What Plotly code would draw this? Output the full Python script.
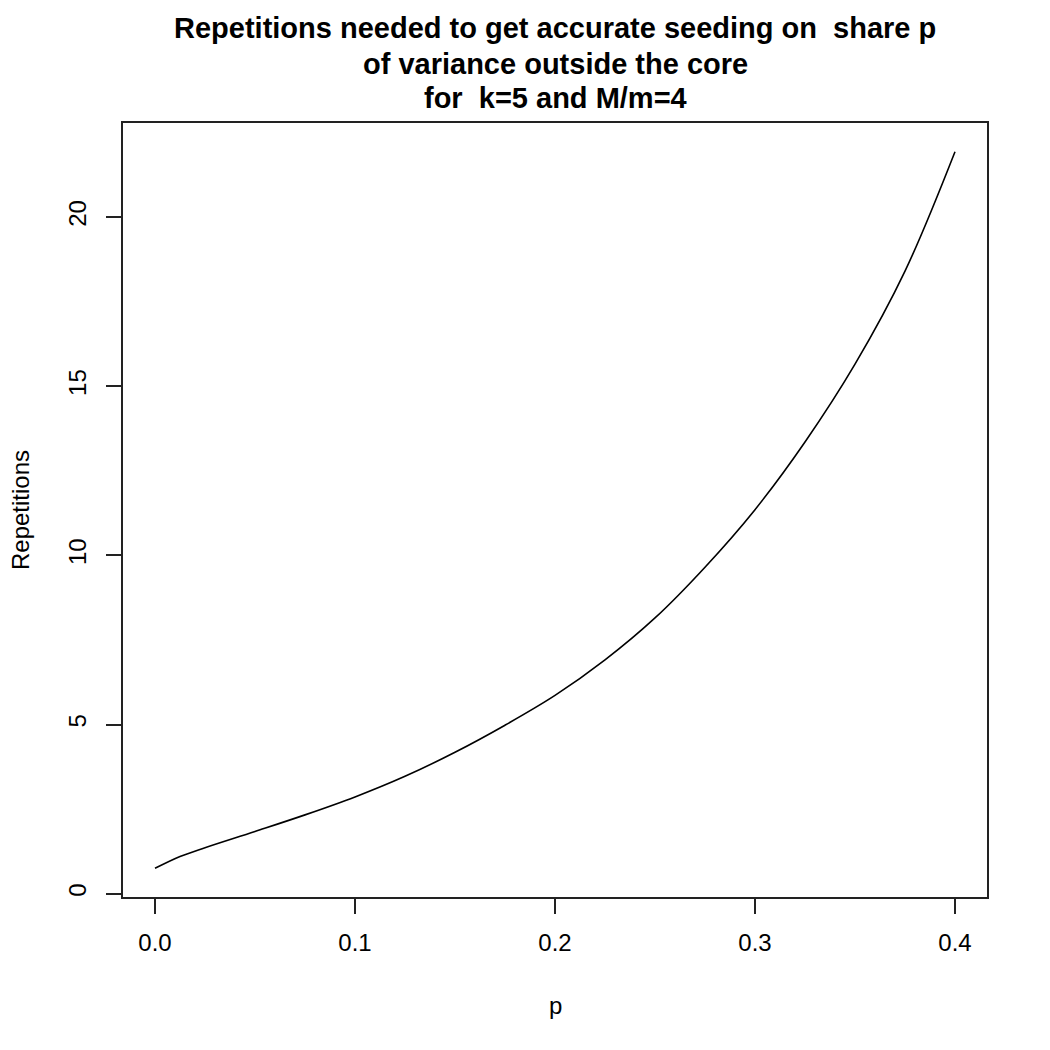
import plotly.graph_objects as go

# Data
p_values = [0.0, 0.0125, 0.025, 0.05, 0.075, 0.1, 0.125, 0.15, 0.175, 0.2, 0.225,
            0.25, 0.275, 0.3, 0.325, 0.35, 0.375, 0.4]
repetitions = [0.75, 1.1, 1.36, 1.84, 2.33, 2.86, 3.47, 4.18, 4.98, 5.86, 6.91,
               8.15, 9.65, 11.35, 13.35, 15.65, 18.4, 21.93]

x_ticks = [0.0, 0.1, 0.2, 0.3, 0.4]
x_tick_labels = ["0.0", "0.1", "0.2", "0.3", "0.4"]
y_ticks = [0, 5, 10, 15, 20]
y_tick_labels = ["0", "5", "10", "15", "20"]

title_lines = ["Repetitions needed to get accurate seeding on  share p",
               "of variance outside the core",
               "for  k=5 and M/m=4"]
x_label = "p"
y_label = "Repetitions"

FONT = "Liberation Sans, Arial, Helvetica, sans-serif"

fig = go.Figure()
fig.add_trace(go.Scatter(x=p_values, y=repetitions, mode="lines",
                         line=dict(color="black", width=1.6, shape="spline", smoothing=1.0),
                         showlegend=False, hoverinfo="skip"))

# R-style 4% axis extension
xmin, xmax = min(p_values), max(p_values)
ymin, ymax = min(repetitions), max(repetitions)
dx = (xmax - xmin) * 0.04
dy = (ymax - ymin) * 0.04

fig.update_layout(
    width=1050, height=1050,
    margin=dict(l=123, r=63, t=123, b=153),
    paper_bgcolor="white", plot_bgcolor="white",
    font=dict(family=FONT, size=24, color="black"),
    xaxis=dict(range=[xmin - dx, xmax + dx], tickvals=x_ticks, ticktext=x_tick_labels,
               ticks="outside", ticklen=15, tickwidth=2, tickcolor="#222",
               showline=True, linecolor="#222", linewidth=2, mirror=True,
               showgrid=False, zeroline=False, ticklabelstandoff=8),
    yaxis=dict(range=[ymin - dy, ymax + dy], tickvals=y_ticks, ticktext=y_tick_labels,
               ticks="outside", ticklen=15, tickwidth=2, tickcolor="#222",
               showline=True, linecolor="#222", linewidth=2, mirror=True,
               showgrid=False, zeroline=False, tickangle=-90, ticklabelstandoff=10),
)

title_y = [28, 64, 98]
for txt, yy in zip(title_lines, title_y):
    fig.add_annotation(text="<b>" + txt + "</b>", xref="paper", yref="paper",
                       x=0.5, y=1 + (123 - yy) / 774.0, showarrow=False,
                       font=dict(size=29, family=FONT, color="black"),
                       xanchor="center", yanchor="middle")

fig.add_annotation(text=x_label, xref="paper", yref="paper", x=0.5,
                   y=-(1005 - 897) / 774.0, showarrow=False,
                   font=dict(size=24, family=FONT), xanchor="center", yanchor="middle")
fig.add_annotation(text=y_label, xref="paper", yref="paper", x=-(123 - 20) / 864.0,
                   y=0.5, showarrow=False, textangle=-90,
                   font=dict(size=24, family=FONT), xanchor="center", yanchor="middle")

fig.write_html("out.html")
